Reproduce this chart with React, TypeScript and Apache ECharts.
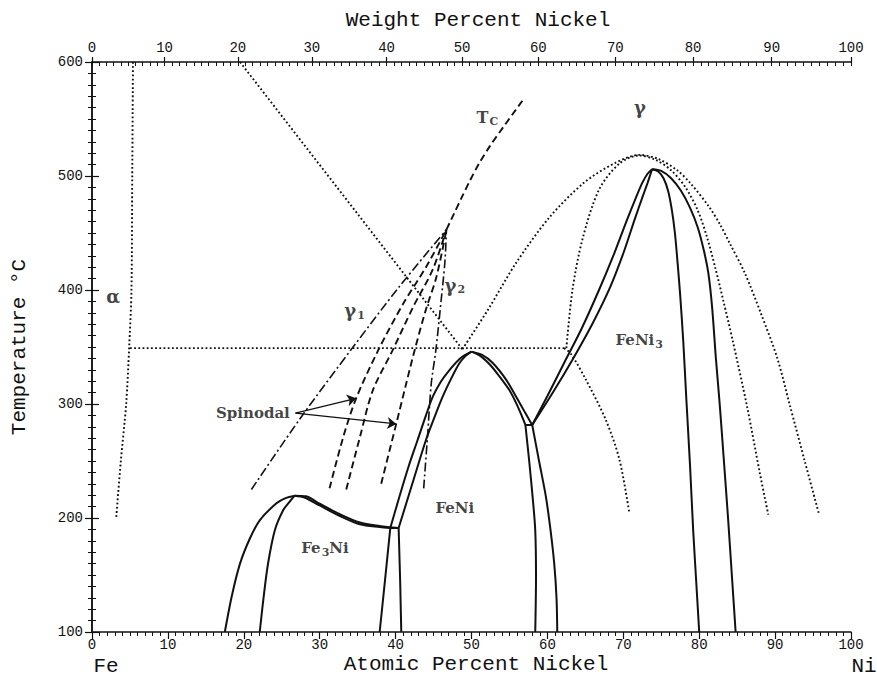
import React, { useEffect, useRef } from "react";
import * as echarts from "echarts";

// ---------------- data (atomic % Ni, temperature °C) ----------------
const weightTicks = [0, 10, 20, 30, 40, 50, 60, 70, 80, 90, 100];
const weightMinorTicks = [
  0, 1, 2, 3, 4, 5, 6, 7, 8, 9, 10, 11, 12, 13, 14, 15, 16, 17, 18, 19, 20,
  21, 22, 23, 24, 25, 26, 27, 28, 29, 30, 31, 32, 33, 34, 35, 36, 37, 38, 39, 40,
  41, 42, 43, 44, 45, 46, 47, 48, 49, 50, 51, 52, 53, 54, 55, 56, 57, 58, 59, 60,
  61, 62, 63, 64, 65, 66, 67, 68, 69, 70, 71, 72, 73, 74, 75, 76, 77, 78, 79, 80,
  81, 82, 83, 84, 85, 86, 87, 88, 89, 90, 91, 92, 93, 94, 95, 96, 97, 98, 99, 100,
];

// dotted (metastable) lines
const alphaBoundary = [[3.2, 201], [3.8, 250], [4.5, 300], [4.9, 350], [5.2, 400], [5.3, 500], [5.4, 600]];
const diagonalDotted = [[19.5, 600], [48.8, 348]];
const horizontalDotted = [[5.0, 349], [62.2, 349]];
const descendingDotted = [[62.2, 349], [63.1, 344], [65.1, 321], [67.7, 286], [69.5, 251], [70.8, 204]];
const wideDome = [
  [48.8, 348], [52.2, 383], [55.9, 424], [60.3, 464], [64.8, 494], [68.8, 511], [72.1, 518.5],
  [74.6, 515], [77.1, 505], [78.8, 494], [81.3, 473], [82.7, 458], [84.1, 440], [86.0, 415],
  [88.1, 380], [90.3, 340], [91.9, 300], [93.9, 250], [95.8, 203],
];
const narrowDome = [
  [62.5, 349], [63.3, 400], [64.6, 444], [66.8, 488], [69.5, 511], [72.1, 518],
  [74.3, 514], [76.3, 505], [78.2, 490], [79.8, 470], [81.0, 447], [82.1, 420], [83.2, 390],
  [84.4, 356], [86.3, 298], [88.0, 239], [89.1, 203],
];

// Fe3Ni
const fe3niOuterLeft = [[17.5, 100], [18.4, 131], [19.5, 160], [20.8, 182], [22.1, 198], [24.3, 212.9], [25.5, 217.5], [26.7, 219.6]];
const fe3niInnerLeft = [[22.1, 100], [22.6, 130], [23.2, 160.3], [24.1, 189.5], [25.2, 207], [26.0, 214], [26.7, 219.6]];
const fe3niTopLower = [[26.7, 219.6], [28.0, 218], [30.0, 211], [32.6, 202], [35.3, 194.5], [37.9, 192], [39.3, 191.2]];
const fe3niTopUpper = [[26.7, 219.6], [28.2, 219], [30.0, 212.5], [32.6, 203.5], [35.3, 196], [37.9, 193], [40.4, 191.2]];
const fe3niTie = [[39.3, 191.2], [40.4, 191.2]];
const fe3niRightA = [[39.3, 191.2], [38.6, 145], [37.9, 100]];
const fe3niRightB = [[40.4, 191.2], [40.6, 145], [40.75, 100]];

// FeNi
const feniLeftOuter = [[39.3, 191.2], [40.5, 218.7], [41.7, 245], [42.9, 268.4], [44.0, 290], [44.9, 306.4], [46.0, 320], [47.1, 329.8], [48.5, 340], [50.0, 345.9]];
const feniLeftInner = [[40.4, 191.2], [42.2, 230], [44.0, 268.4], [45.1, 288], [46.2, 306.4], [47.3, 322], [48.4, 335.7], [49.2, 342], [50.0, 345.9]];
const feniRightOuter = [[50.0, 345.9], [51.4, 343], [52.8, 336], [54.6, 321], [56.0, 305], [57.1, 292], [58.0, 281.6]];
const feniRightInner = [[50.0, 345.9], [51.2, 342], [52.5, 334], [53.7, 324], [55.0, 312], [55.9, 300.6], [56.6, 290], [57.1, 281.6]];
const feniTie = [[57.1, 281.6], [58.0, 281.6]];
const feniDownA = [[57.1, 281.6], [57.6, 250], [58.1, 215], [58.4, 189], [58.5, 150], [58.4, 100]];
const feniDownB = [[58.0, 281.6], [58.9, 250], [59.8, 218.7], [60.4, 190], [60.9, 160], [61.2, 130], [61.3, 100]];

// FeNi3
const feni3LeftA = [[58.0, 281.6], [60.0, 307], [62.2, 336], [64.5, 366], [66.8, 400], [68.8, 432], [70.4, 460], [71.6, 480], [72.5, 494], [73.2, 502], [73.8, 506]];
const feni3LeftB = [[58.0, 281.6], [60.8, 311], [63.4, 340], [65.9, 370], [68.3, 403], [70.1, 434], [71.5, 462], [72.5, 481], [73.2, 494], [73.6, 502], [73.8, 506]];
const feni3RightInner = [
  [73.8, 506], [74.6, 504], [75.3, 498], [75.9, 487], [76.4, 470], [76.8, 450], [77.1, 428],
  [77.5, 395], [77.9, 355], [78.3, 305], [78.8, 245], [79.2, 190], [79.6, 145], [80.0, 100],
];
const feni3RightOuter = [
  [73.8, 506], [75.0, 504.5], [76.3, 498], [77.6, 487], [78.8, 472], [79.8, 455], [80.6, 435],
  [81.2, 415], [81.7, 385], [82.2, 340], [82.7, 300], [83.2, 255], [83.8, 200], [84.3, 150], [84.8, 100],
];

// magnetic / spinodal lines
const curieLine = [[46.7, 453], [47.7, 467], [48.7, 481], [49.8, 496], [51.0, 511], [52.4, 526], [54.2, 543], [56.7, 566]];
const gamma1Line = [[21.0, 225], [27.5, 288], [34.4, 350], [40.5, 403], [46.7, 453]];
const gamma2Line = [[43.7, 226], [44.2, 271], [44.7, 318], [45.3, 347], [46.0, 391], [46.5, 425], [46.7, 453]];
const spinodal1 = [[31.3, 226], [33.1, 271], [34.8, 305], [37.7, 347], [41.0, 388], [44.0, 420], [46.7, 453]];
const spinodal2 = [[33.5, 225], [35.3, 271], [37.0, 312], [39.6, 347], [42.3, 385], [44.9, 418], [46.7, 453]];
const spinodal3 = [[38.1, 230], [40.1, 283], [41.4, 318], [42.5, 347], [44.0, 383], [45.4, 412], [46.7, 453]];
const spinodalArrows = [
  [[26.8, 292], [34.8, 305]],
  [[26.8, 292], [40.1, 282.5]],
];

// annotation texts and their anchors (atomic %, °C)
const annotationTexts = ["{g|α}", "{g|γ}", "{t|T}{ts|C}", "{g|γ}{s|1}", "{g|γ}{s|2}", "{b|Spinodal}", "{b|FeNi}{s|3}", "{b|FeNi}", "{b|Fe}{s|3}{b|Ni}"];
const annotationAnchors = [[2.8, 394], [72.2, 560], [52.1, 551], [34.6, 382], [47.8, 404], [21.2, 292], [72.1, 356], [47.8, 209], [30.7, 174]];

// ---------------- helpers ----------------
const NI_MASS = 58.6934;
const FE_MASS = 55.845;
const wtToAt = (w: number) => {
  const n = w / NI_MASS;
  const f = (100 - w) / FE_MASS;
  return (n / (n + f)) * 100;
};
const atToWt = (a: number) => {
  const n = a * NI_MASS;
  const f = (100 - a) * FE_MASS;
  return (n / (n + f)) * 100;
};

const INK = "#111";
const MONO = "Liberation Mono";
const SERIF = "DejaVu Serif";

type Pt = number[];
const lineSeries = (data: Pt[], kind: "solid" | "dotted" | "dashed" | "dashdot", smooth: number | boolean = 0.3) => {
  const styles: Record<string, any> = {
    solid: { width: 2, type: "solid" },
    dotted: { width: 1.9, type: [1.8, 2.4] },
    dashed: { width: 1.9, type: [7, 4] },
    dashdot: { width: 1.6, type: [9, 3, 2, 3] },
  };
  return {
    type: "line",
    data,
    xAxisIndex: 0,
    yAxisIndex: 0,
    symbol: "none",
    showSymbol: false,
    smooth,
    silent: true,
    lineStyle: { color: INK, cap: "butt", ...styles[kind] },
    z: kind === "solid" ? 4 : 3,
  };
};

export default function App() {
  const ref = useRef<HTMLDivElement>(null);

  useEffect(() => {
    if (!ref.current) return;
    const chart = echarts.init(ref.current, null, { renderer: "svg" });

    const topLabelValues = weightTicks.map(wtToAt);
    const topMinorValues = weightMinorTicks.map(wtToAt);

    const rich = {
      g: { fontFamily: SERIF, fontWeight: "bold", fontSize: 18, color: INK },
      s: { fontFamily: SERIF, fontWeight: "bold", fontSize: 11, color: INK, padding: [9, 0, 0, 1] },
      b: { fontFamily: SERIF, fontWeight: "bold", fontSize: 15, color: INK },
      t: { fontFamily: SERIF, fontWeight: "bold", fontSize: 16, color: INK },
      ts: { fontFamily: SERIF, fontWeight: "bold", fontSize: 11, color: INK, padding: [8, 0, 0, 1] },
    };

    const commonLabel = { fontFamily: MONO, fontSize: 14, color: INK };
    const axisLine = { show: true, lineStyle: { color: INK, width: 1.5 } };
    const titleStyle = (text: string) => ({
      text,
      font: `21px "${MONO}"`,
      fill: INK,
      align: "center",
      verticalAlign: "middle",
      textAlign: "center",
      textVerticalAlign: "middle",
    });

    const option: any = {
      animation: false,
      backgroundColor: "#fff",
      grid: { left: 92, top: 62, width: 759, height: 570, outerBoundsMode: "none" },
      xAxis: [
        {
          type: "value",
          position: "bottom",
          min: 0,
          max: 100,
          interval: 10,
          axisLine,
          splitLine: { show: false },
          axisTick: { show: true, length: 7, lineStyle: { color: INK, width: 1.2 } },
          minorTick: { show: true, splitNumber: 10, length: 4, lineStyle: { color: INK, width: 1 } },
          axisLabel: { ...commonLabel, margin: 6 },
        },
        {
          type: "value",
          position: "top",
          min: 0,
          max: 100,
          axisLine,
          splitLine: { show: false },
          axisTick: { show: true, customValues: topLabelValues, length: 5, lineStyle: { color: INK, width: 1.2 } },
          axisLabel: {
            ...commonLabel,
            margin: 7,
            customValues: topLabelValues,
            formatter: (v: number) => String(Math.round(atToWt(v))),
          },
        },
        {
          type: "value",
          position: "top",
          min: 0,
          max: 100,
          axisLine: { show: false },
          splitLine: { show: false },
          axisTick: { show: true, inside: true, customValues: topMinorValues, length: 4, lineStyle: { color: INK, width: 1 } },
          axisLabel: { show: false, customValues: topLabelValues },
        },
      ],
      yAxis: [
        {
          type: "value",
          position: "left",
          min: 100,
          max: 600,
          interval: 100,
          axisLine,
          splitLine: { show: false },
          axisTick: { show: true, length: 7, lineStyle: { color: INK, width: 1.2 } },
          minorTick: { show: true, splitNumber: 10, length: 4, lineStyle: { color: INK, width: 1 } },
          axisLabel: { ...commonLabel, margin: 9 },
        },
        {
          type: "value",
          position: "right",
          min: 100,
          max: 600,
          interval: 100,
          axisLine,
          splitLine: { show: false },
          axisTick: { show: true, length: 7, lineStyle: { color: INK, width: 1.2 } },
          minorTick: { show: true, splitNumber: 10, length: 4, lineStyle: { color: INK, width: 1 } },
          axisLabel: { show: false },
        },
      ],
      series: [
        // dotted metastable lines
        lineSeries(alphaBoundary, "dotted"),
        lineSeries(diagonalDotted, "dotted", false),
        lineSeries(horizontalDotted, "dotted", false),
        lineSeries(descendingDotted, "dotted"),
        lineSeries(wideDome, "dotted"),
        lineSeries(narrowDome, "dotted"),
        // Fe3Ni
        lineSeries(fe3niOuterLeft, "solid"),
        lineSeries(fe3niInnerLeft, "solid"),
        lineSeries(fe3niTopLower, "solid"),
        lineSeries(fe3niTopUpper, "solid"),
        lineSeries(fe3niTie, "solid", false),
        lineSeries(fe3niRightA, "solid", false),
        lineSeries(fe3niRightB, "solid", false),
        // FeNi
        lineSeries(feniLeftOuter, "solid"),
        lineSeries(feniLeftInner, "solid"),
        lineSeries(feniRightOuter, "solid"),
        lineSeries(feniRightInner, "solid"),
        lineSeries(feniTie, "solid", false),
        lineSeries(feniDownA, "solid"),
        lineSeries(feniDownB, "solid"),
        // FeNi3
        lineSeries(feni3LeftA, "solid"),
        lineSeries(feni3LeftB, "solid"),
        lineSeries(feni3RightInner, "solid"),
        lineSeries(feni3RightOuter, "solid"),
        // magnetic / spinodal
        lineSeries(curieLine, "dashed"),
        lineSeries(gamma1Line, "dashdot"),
        lineSeries(gamma2Line, "dashdot"),
        lineSeries(spinodal1, "dashed"),
        lineSeries(spinodal2, "dashed"),
        lineSeries(spinodal3, "dashed"),
        {
          type: "lines",
          coordinateSystem: "cartesian2d",
          xAxisIndex: 0,
          yAxisIndex: 0,
          symbol: ["none", "arrow"],
          symbolSize: [0, 9],
          silent: true,
          lineStyle: { color: INK, width: 1.3, opacity: 1, curveness: 0 },
          data: spinodalArrows.map((c) => ({ coords: c })),
          z: 5,
        },
        {
          type: "scatter",
          xAxisIndex: 0,
          yAxisIndex: 0,
          symbol: "circle",
          symbolSize: 1,
          silent: true,
          itemStyle: { color: "rgba(0,0,0,0)" },
          label: { show: true, position: "inside", rich, color: INK },
          data: annotationTexts.map((t, i) => ({ value: annotationAnchors[i], label: { formatter: t } })),
          z: 10,
        },
      ],
      graphic: [
        { type: "text", x: 478, y: 20, style: titleStyle("Weight Percent Nickel") },
        { type: "text", x: 476, y: 664, style: titleStyle("Atomic Percent Nickel") },
        { type: "text", x: 19, y: 347, rotation: Math.PI / 2, style: titleStyle("Temperature °C") },
        { type: "text", x: 106, y: 666, style: titleStyle("Fe") },
        { type: "text", x: 864, y: 666, style: titleStyle("Ni") },
      ],
    };

    chart.setOption(option);
    return () => chart.dispose();
  }, []);

  return (
    <div
      ref={ref}
      style={{ position: "fixed", left: 0, top: 0, width: 877, height: 683, background: "#fff" }}
    />
  );
}
